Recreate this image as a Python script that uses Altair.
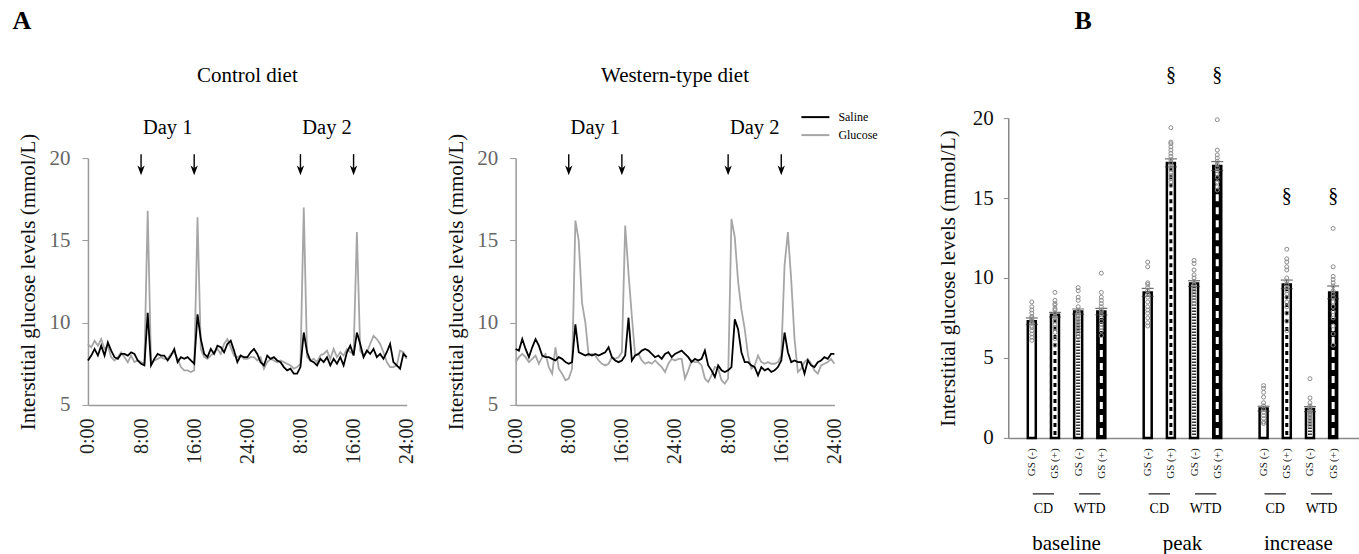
import altair as alt
import pandas as pd

FONT = "Liberation Serif"

# ---------------- Panel A data (30-min sampling, 0-48 h) ----------------
SAMPLE_STEP_H = 0.5
N_SAMPLES = 97
HOURS = [i * SAMPLE_STEP_H for i in range(N_SAMPLES)]
TIME_TICKS = [0, 8, 16, 24, 32, 40, 48]
TIME_LABELS = ["0:00", "8:00", "16:00", "24:00", "8:00", "16:00", "24:00"]
GLUCOSE_TICKS = [5, 10, 15, 20]
ARROW_HOURS = [8, 16, 32, 40]
DAY_LABELS = ["Day 1", "Day 2"]
DAY_LABEL_HOURS = [12, 36]
SERIES = ["Saline", "Glucose"]
SERIES_COLORS = ["#000000", "#a6a6a6"]

CD_SALINE = [
    7.7, 8.0, 8.4, 8.0, 8.6, 8.0, 8.8, 8.3, 7.9, 7.8,
    8.1, 8.1, 8.0, 8.2, 8.1, 7.7, 7.5, 7.4, 10.6, 7.4,
    7.8, 8.1, 8.0, 8.0, 7.7, 8.0, 8.4, 7.6, 7.9, 7.8,
    7.9, 7.7, 7.5, 10.5, 9.0, 8.1, 7.9, 8.4, 8.1, 8.6,
    8.5, 8.2, 8.7, 8.9, 8.3, 7.6, 8.0, 7.9, 7.9,
    8.2, 8.4, 8.1, 7.6, 7.4, 8.0, 7.8, 7.9, 7.7, 7.6,
    7.3, 7.1, 7.2, 6.9, 6.9, 7.3, 9.4, 8.2, 7.7, 7.6,
    7.4, 7.8, 7.6, 7.9, 7.4, 7.8, 7.5, 7.9, 7.4, 8.2,
    8.6, 8.0, 9.4, 8.7, 7.9, 8.3, 8.1, 8.4, 7.9, 8.1,
    7.8, 8.2, 8.7, 7.6, 7.4, 7.2, 8.1, 7.9,
]
CD_GLUCOSE = [
    8.7, 8.5, 8.9, 8.6, 9.0, 8.4, 8.6, 7.9, 7.7, 7.9,
    8.2, 7.9, 7.6, 8.0, 7.6, 7.7, 7.6, 7.5, 16.8, 7.5,
    7.7, 7.8, 7.9, 7.8, 7.8, 8.1, 8.2, 7.8, 7.3, 7.1,
    7.1, 7.0, 7.1, 16.4, 8.4, 7.9, 7.8, 8.0, 8.2, 8.4,
    8.1, 8.7, 9.0, 8.5, 8.0, 7.9, 8.0, 7.8, 7.8,
    7.9, 7.9, 7.7, 7.9, 7.2, 7.6, 7.8, 7.7, 7.6, 7.7,
    7.6, 7.5, 7.4, 7.2, 7.3, 7.5, 17.0, 7.9, 7.7, 7.8,
    7.6, 8.0, 8.1, 8.3, 7.8, 8.4, 7.9, 8.2, 8.0, 8.4,
    8.2, 8.1, 15.5, 8.3, 8.0, 8.2, 8.7, 9.2, 9.0, 8.7,
    8.2, 7.6, 7.3, 7.3, 7.4, 8.3, 8.2, 7.8,
]
WTD_SALINE = [
    8.4, 8.3, 9.0, 8.4, 7.9, 8.5, 9.0, 8.6, 8.0, 7.9,
    7.9, 7.8, 7.7, 7.9, 7.8, 7.6, 7.5, 7.6, 9.9, 8.2,
    8.1, 8.0, 8.1, 8.0, 8.1, 8.0, 8.1, 8.2, 8.5, 7.9,
    7.7, 7.6, 7.7, 8.0, 10.3, 7.7, 8.0, 8.1, 8.3, 8.4,
    8.3, 8.1, 7.9, 8.0, 7.8, 8.1, 8.2, 7.9, 8.1,
    8.2, 8.3, 8.1, 7.9, 7.6, 7.8, 7.7, 7.8, 8.3, 7.4,
    7.1, 6.7, 7.4, 7.1, 7.0, 7.1, 7.3, 10.2, 9.6, 8.2,
    7.6, 7.6, 7.4, 7.3, 6.8, 7.3, 7.1, 7.2, 7.0, 7.1,
    7.3, 7.7, 9.4, 8.2, 7.6, 7.7, 7.6, 7.6, 6.9, 7.7,
    7.4, 7.3, 7.6, 7.7, 7.9, 7.8, 8.1, 8.1,
]
WTD_GLUCOSE = [
    7.6, 7.9, 8.1, 7.9, 7.6, 7.8, 8.0, 7.5, 7.9, 8.1,
    7.3, 6.9, 8.5, 7.2, 6.9, 6.5, 6.6, 7.2, 16.2, 15.0,
    11.2, 10.0, 8.0, 8.1, 8.0, 7.7, 7.5, 7.4, 7.5, 7.9,
    7.8, 7.9, 8.2, 15.9, 13.0, 10.4, 8.0, 8.1, 7.7, 7.5,
    7.6, 7.5, 7.7, 7.5, 7.3, 7.0, 7.5, 7.8, 7.7,
    7.8, 7.8, 6.6, 7.1, 7.7, 7.6, 7.6, 7.4, 6.6, 6.4,
    6.8, 7.3, 7.2, 6.5, 6.3, 6.6, 16.3, 15.2, 12.5, 10.8,
    9.6, 8.0, 7.2, 7.4, 8.0, 7.6, 7.5, 7.6, 7.5, 7.5,
    7.6, 8.0, 13.5, 15.5, 12.6, 9.0, 7.0, 7.2, 7.6, 7.8,
    7.5, 7.1, 6.9, 7.4, 7.5, 7.6, 7.8, 7.5,
]

# ---------------- Panel B data ----------------
PHASES = ["baseline", "peak", "increase"]
DIETS = ["CD", "WTD"]
TREATMENTS = ["GS (-)", "GS (+)"]
# order within a phase: CD GS(-), CD GS(+), WTD GS(-), WTD GS(+)
MEANS = {
    "baseline": [7.3, 7.7, 7.9, 7.9],
    "peak": [9.1, 17.2, 9.65, 17.0],
    "increase": [1.83, 9.6, 1.8, 9.1],
}
SEMS = {
    "baseline": [0.2, 0.15, 0.16, 0.2],
    "peak": [0.25, 0.25, 0.18, 0.28],
    "increase": [0.15, 0.27, 0.16, 0.4],
}
DOTS = {
    "baseline": [
        [8.5, 8.2, 8.0, 7.8, 7.6, 7.5, 7.4, 7.3, 7.2, 7.0, 6.9, 6.7, 6.5, 6.3, 6.1],
        [9.1, 8.6, 8.4, 8.3, 8.1, 8.0, 7.8, 7.6, 7.5, 7.3, 7.1, 6.9, 6.6, 6.2, 5.8],
        [9.4, 9.2, 8.8, 8.6, 8.2, 8.0, 7.9, 7.8, 7.6, 7.4, 7.2, 7.0, 6.8, 6.6, 6.3],
        [10.3, 9.1, 8.8, 8.6, 8.4, 8.2, 8.0, 7.9, 7.7, 7.5, 7.3, 7.1, 6.9, 6.7, 6.4],
    ],
    "peak": [
        [11.0, 10.7, 9.7, 9.6, 9.4, 9.2, 9.0, 8.8, 8.5, 8.2, 8.0, 7.8, 7.5, 7.2, 7.0],
        [19.4, 18.5, 18.4, 18.2, 18.0, 17.8, 17.6, 17.4, 17.2, 17.0, 16.8, 16.6, 16.4, 16.2, 16.0, 15.8],
        [11.1, 10.9, 10.5, 10.2, 10.0, 9.8, 9.6, 9.4, 9.2, 9.0, 8.8, 8.6, 8.4],
        [19.9, 18.0, 17.7, 17.5, 17.3, 17.1, 16.9, 16.7, 16.5, 16.3, 16.0, 15.7, 15.5],
    ],
    "increase": [
        [3.27, 3.1, 2.85, 2.55, 2.2, 2.0, 1.8, 1.6, 1.4, 1.2, 1.0, 0.9],
        [11.8, 11.2, 11.0, 10.7, 10.5, 10.0, 9.8, 9.6, 9.4, 9.2, 9.0, 8.8, 8.5, 8.2, 7.8, 7.3, 6.7],
        [3.7, 2.5, 2.2, 2.0, 1.9, 1.8, 1.6, 1.5, 1.4, 1.2, 1.0, 0.8],
        [13.1, 10.7, 10.1, 9.9, 9.7, 9.5, 9.2, 9.0, 8.8, 8.5, 8.2, 7.9, 7.5, 7.0, 6.5, 5.8],
    ],
}
SIG_PHASES = ["peak", "increase"]
SIG_SYMBOL = "\u00a7"
BAR_TICKS = [0, 5, 10, 15, 20]
Y_TITLE = "Interstitial glucose levels (mmol/L)"

# ---------------- layout / style constants ----------------
A_PLOT_W = 319
A_H = 287
A_Y_RANGE = [287, 40]
P1_W = 428
P2_W = 493
B_W = 351
B_H = 320
ARROW_PATH = "M-0.75,-1 L0,1 L0.75,-1 L0,-0.45 Z"
TICK_FONT = 21
TITLE_FONT = 21


def ts_panel(name, saline, glucose, panel_w, letter=None, legend=False):
    assert len(saline) == N_SAMPLES and len(glucose) == N_SAMPLES
    df = pd.DataFrame({
        "hour": HOURS + HOURS,
        "value": saline + glucose,
        "series": [SERIES[0]] * N_SAMPLES + [SERIES[1]] * N_SAMPLES,
    })
    lab_arr = "[" + ",".join("'%s'" % s for s in TIME_LABELS) + "]"
    tick_arr = "[" + ",".join(str(t) for t in TIME_TICKS) + "]"
    x_axis = alt.Axis(values=TIME_TICKS, labelExpr=lab_arr + "[indexof(" + tick_arr + ", datum.value)]",
                      labelAngle=-90, labelFontSize=20, labelFont=FONT, labelColor="#222",
                      ticks=False, labelPadding=13, domainColor="#9a9a9a", domainWidth=1.5,
                      grid=False, title=None, labelFlush=False, labelOverlap=False)
    y_axis = alt.Axis(values=GLUCOSE_TICKS, labelFontSize=TICK_FONT, labelFont=FONT, labelColor="#666",
                      tickSize=6, tickColor="#9a9a9a", domainColor="#9a9a9a", domainWidth=1.5,
                      labelPadding=12, grid=False, title=Y_TITLE, titleFont=FONT,
                      titleFontSize=TITLE_FONT, titleFontWeight="normal", titleColor="#111",
                      titlePadding=10, labelFlush=False)
    X = alt.X("hour:Q", scale=alt.Scale(domain=[0, 48], range=[0, A_PLOT_W], nice=False, zero=False), axis=x_axis)
    Y = alt.Y("value:Q", scale=alt.Scale(domain=[5, 20], range=A_Y_RANGE, nice=False, zero=False), axis=y_axis)

    layers = []
    for s, c in zip(SERIES[::-1], SERIES_COLORS[::-1]):
        layers.append(alt.Chart(df).transform_filter(alt.datum.series == s)
                      .mark_line(color=c, strokeWidth=1.8).encode(x=X, y=Y))
    arrows = pd.DataFrame({"hour": ARROW_HOURS})
    layers.append(alt.Chart(arrows).mark_rule(color="black", strokeWidth=1.4)
                  .encode(x=X, y=alt.datum(20.24), y2=alt.datum(19.4)))
    layers.append(alt.Chart(arrows).mark_point(shape=ARROW_PATH, filled=True, color="black",
                                               size=95, strokeWidth=0, opacity=1)
                  .encode(x=X, y=alt.datum(19.25)))
    days = pd.DataFrame({"hour": DAY_LABEL_HOURS, "label": DAY_LABELS})
    layers.append(alt.Chart(days).mark_text(font=FONT, fontSize=20.5, color="black")
                  .encode(x=X, y=alt.datum(21.82), text="label:N"))
    layers.append(alt.Chart(pd.DataFrame({"t": [name]})).mark_text(font=FONT, fontSize=21, color="black")
                  .encode(x=alt.datum(24), y=alt.value(-42), text="t:N"))
    if letter:
        layers.append(alt.Chart(pd.DataFrame({"t": [letter]}))
                      .mark_text(font=FONT, fontSize=26, fontWeight="bold", color="black")
                      .encode(x=alt.value(-66), y=alt.value(-97), text="t:N"))
    if legend:
        for i, (s, c) in enumerate(zip(SERIES, SERIES_COLORS)):
            layers.append(alt.Chart(pd.DataFrame({"t": [s]})).mark_rule(color=c, strokeWidth=2)
                          .encode(x=alt.value(286), x2=alt.value(314), y=alt.value(-1 + 18 * i)))
            layers.append(alt.Chart(pd.DataFrame({"t": [s]}))
                          .mark_text(font=FONT, fontSize=12, align="left", baseline="middle", color="black")
                          .encode(x=alt.value(323), y=alt.value(-1 + 18 * i), text="t:N"))
    return alt.layer(*layers).properties(width=panel_w, height=A_H)


# ---------------- Panel B ----------------
STYLE_FILL = ["white", "white", "white", "black"]
bar_rows, dot_rows, under_rows, phase_rows, sig_rows = [], [], [], [], []
slot_labels = [""] * 14
for pi, ph in enumerate(PHASES):
    for di, d in enumerate(DIETS):
        base = pi * 5 + di * 2
        under_rows.append({"x": base + 0.04, "x2": base + 0.96, "mid": base + 0.5, "label": d})
        for ti, t in enumerate(TREATMENTS):
            k = di * 2 + ti
            slot = base + ti
            slot_labels[slot] = t
            m, se = MEANS[ph][k], SEMS[ph][k]
            bar_rows.append({"slot": slot, "mean": m, "lo": m - se, "hi": m + se,
                             "fill": STYLE_FILL[k], "style": k,
                             "p0": 0.18, "p1": m - 0.18})
            for v in DOTS[ph][k]:
                dot_rows.append({"slot": slot, "value": v})
    phase_rows.append({"mid": pi * 5 + 1.5, "label": ph})
    if ph in SIG_PHASES:
        top = max(MEANS[ph][1], MEANS[ph][3])
        for k in (1, 3):
            sig_rows.append({"slot": pi * 5 + (k // 2) * 2 + 1, "y": top + 5.5, "t": SIG_SYMBOL})

bars_df = pd.DataFrame(bar_rows)
dots_df = pd.DataFrame(dot_rows)
under_df = pd.DataFrame(under_rows)
phase_df = pd.DataFrame(phase_rows)
sig_df = pd.DataFrame(sig_rows)
bar_slots = sorted(bars_df["slot"].tolist())

xb_axis = alt.Axis(values=bar_slots,
                   labelExpr="[" + ",".join("'%s'" % s for s in slot_labels) + "][datum.value]",
                   labelAngle=-90, labelFontSize=11, labelFont=FONT, labelColor="#222",
                   ticks=False, labelPadding=10, domainColor="#888", domainWidth=1.5,
                   grid=False, title=None, labelFlush=False, labelOverlap=False)
yb_axis = alt.Axis(values=BAR_TICKS, labelFontSize=TICK_FONT, labelFont=FONT, labelColor="#111",
                   tickSize=5, tickColor="#888", domainColor="#888", domainWidth=1.5,
                   labelPadding=10, grid=False, title=Y_TITLE, titleFont=FONT, titleFontSize=TITLE_FONT,
                   titleFontWeight="normal", titleColor="#111", titlePadding=14, labelFlush=False)
XS = alt.Scale(domain=[-0.8, 13.9], nice=False, zero=False)
YS = alt.Scale(domain=[0, 20], nice=False, zero=True)


def XB(field):
    return alt.X(field, scale=XS, axis=xb_axis)


def YB(field):
    return alt.Y(field, scale=YS, axis=yb_axis)


b_layers = [
    alt.Chart(bars_df).mark_bar(size=8, stroke="black", strokeWidth=2.5)
    .encode(x=XB("slot:Q"), y=YB("mean:Q"), fill=alt.Fill("fill:N", scale=None)),
    alt.Chart(bars_df).transform_filter(alt.datum.style == 1)
    .mark_rule(color="black", strokeWidth=3, strokeDash=[4, 4])
    .encode(x=XB("slot:Q"), y=YB("p0:Q"), y2="p1:Q"),
    alt.Chart(bars_df).transform_filter(alt.datum.style == 2)
    .mark_rule(color="#333", strokeWidth=4, strokeDash=[1.5, 1.5])
    .encode(x=XB("slot:Q"), y=YB("p0:Q"), y2="p1:Q"),
    alt.Chart(bars_df).transform_filter(alt.datum.style == 3)
    .mark_rule(color="white", strokeWidth=3, strokeDash=[7, 6])
    .encode(x=XB("slot:Q"), y=YB("p0:Q"), y2="p1:Q"),
    alt.Chart(bars_df).mark_rule(color="#333", strokeWidth=1)
    .encode(x=XB("slot:Q"), y=YB("lo:Q"), y2="hi:Q"),
    alt.Chart(bars_df).mark_tick(orient="horizontal", size=12, thickness=1.2, color="#333")
    .encode(x=XB("slot:Q"), y=YB("hi:Q")),
    alt.Chart(bars_df).mark_tick(orient="horizontal", size=12, thickness=1.2, color="#333")
    .encode(x=XB("slot:Q"), y=YB("lo:Q")),
    alt.Chart(dots_df).mark_point(shape="circle", filled=False, size=16, color="#8c8c8c",
                                  strokeWidth=1, opacity=1)
    .encode(x=XB("slot:Q"), y=YB("value:Q")),
    alt.Chart(sig_df).mark_text(font=FONT, fontSize=20, color="black")
    .encode(x=XB("slot:Q"), y=YB("y:Q"), text="t:N"),
    alt.Chart(under_df).mark_rule(color="#444", strokeWidth=1.5)
    .encode(x=XB("x:Q"), x2="x2:Q", y=alt.value(376)),
    alt.Chart(under_df).mark_text(font=FONT, fontSize=14, color="black")
    .encode(x=XB("mid:Q"), y=alt.value(391), text="label:N"),
    alt.Chart(phase_df).mark_text(font=FONT, fontSize=21, color="black")
    .encode(x=XB("mid:Q"), y=alt.value(426), text="label:N"),
    alt.Chart(pd.DataFrame({"t": ["B"]}))
    .mark_text(font=FONT, fontSize=26, fontWeight="bold", color="black")
    .encode(x=alt.value(75), y=alt.value(-97), text="t:N"),
]
panel_b = alt.layer(*b_layers).properties(width=B_W, height=B_H)

p1 = ts_panel("Control diet", CD_SALINE, CD_GLUCOSE, P1_W, letter="A")
p2 = ts_panel("Western-type diet", WTD_SALINE, WTD_GLUCOSE, P2_W, legend=True)

chart = (
    alt.hconcat(p1, p2, panel_b, spacing=0, bounds="flush")
    .properties(padding={"left": 12, "top": 8, "right": 0, "bottom": 0})
    .configure(font=FONT)
    .configure_view(stroke=None)
)

chart.save("out.html", embed_options={"renderer": "svg", "actions": False})
